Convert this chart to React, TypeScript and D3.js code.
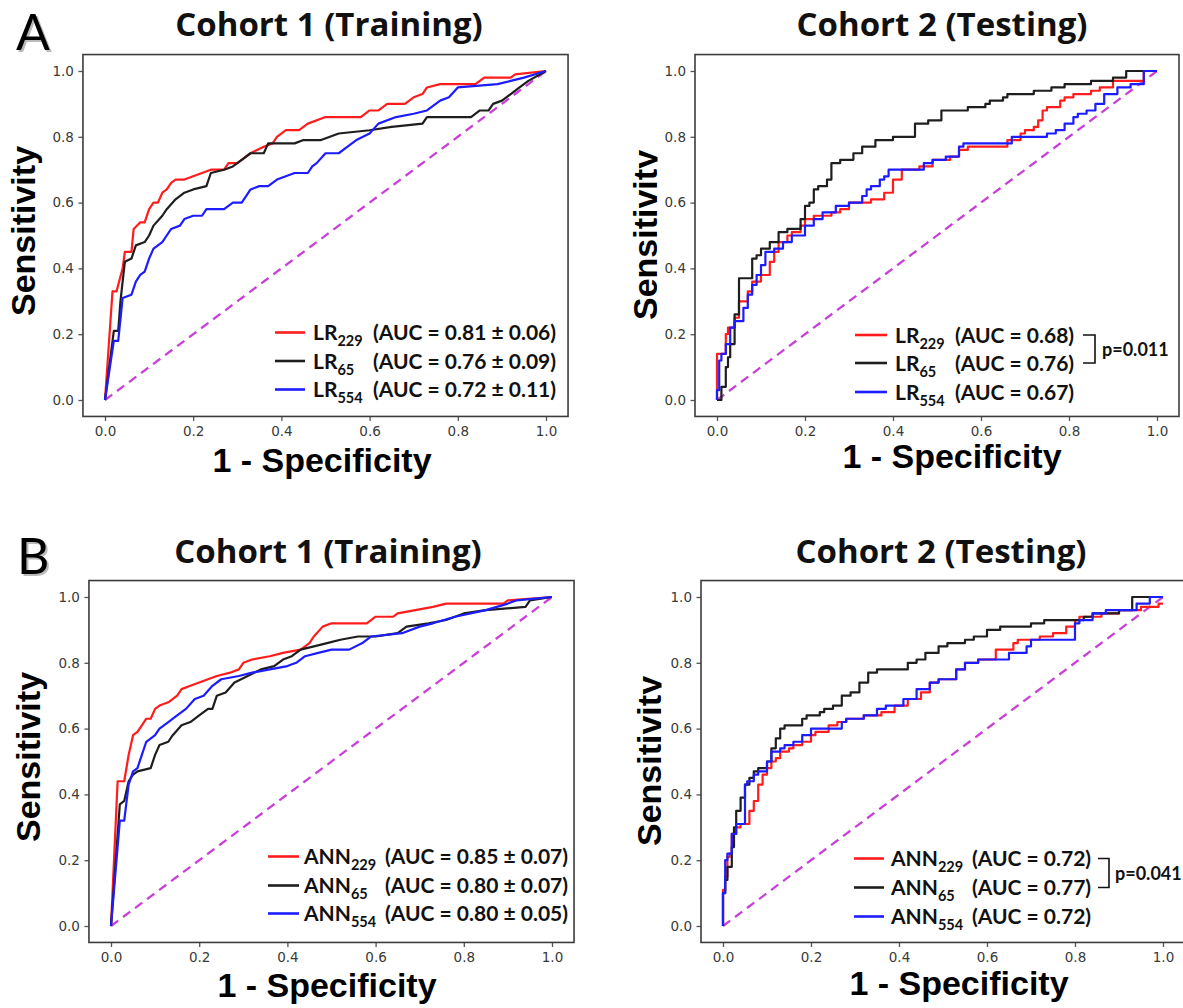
import React, { useEffect, useRef } from "react";
import * as d3 from "d3";

// axis ticks (shared by all four panels)
const TICKS = [0, 0.2, 0.4, 0.6, 0.8, 1.0];
const TICK_LABELS = ["0.0", "0.2", "0.4", "0.6", "0.8", "1.0"];

const PANEL_TITLES = ["Cohort 1 (Training)", "Cohort 2 (Testing)", "Cohort 1 (Training)", "Cohort 2 (Testing)"];
const PANEL_LETTERS = ["A", "B"];
const SUBSCRIPTS = ["229", "65", "554"];
const SERIES_COLORS = ["#ff1c1c", "#1e1e1e", "#1c1cff"];

// AUC texts per panel
const AUC_LR_TRAIN = ["(AUC = 0.81 ± 0.06)", "(AUC = 0.76 ± 0.09)", "(AUC = 0.72 ± 0.11)"];
const AUC_LR_TEST = ["(AUC = 0.68)", "(AUC = 0.76)", "(AUC = 0.67)"];
const AUC_ANN_TRAIN = ["(AUC = 0.85 ± 0.07)", "(AUC = 0.80 ± 0.07)", "(AUC = 0.80 ± 0.05)"];
const AUC_ANN_TEST = ["(AUC = 0.72)", "(AUC = 0.77)", "(AUC = 0.72)"];
const P_VALUES = ["p=0.011", "p=0.041"];

// ROC points [fpr, tpr]
const lrTrain229 = [[0,0],[0.017,0.33],[0.026,0.33],[0.04,0.40],[0.045,0.45],[0.06,0.45],[0.065,0.52],[0.08,0.54],[0.09,0.54],[0.10,0.58],[0.11,0.60],[0.12,0.60],[0.13,0.63],[0.14,0.64],[0.15,0.66],[0.16,0.67],[0.18,0.67],[0.2,0.68],[0.22,0.69],[0.24,0.70],[0.27,0.70],[0.28,0.72],[0.30,0.72],[0.31,0.73],[0.33,0.75],[0.36,0.77],[0.38,0.78],[0.39,0.80],[0.41,0.82],[0.44,0.82],[0.46,0.84],[0.50,0.86],[0.58,0.86],[0.60,0.88],[0.62,0.88],[0.64,0.90],[0.68,0.90],[0.70,0.92],[0.72,0.93],[0.73,0.95],[0.76,0.96],[0.84,0.96],[0.86,0.98],[0.92,0.98],[0.93,0.99],[1,1]];
const lrTrain65 = [[0,0],[0.02,0.21],[0.03,0.21],[0.035,0.30],[0.045,0.42],[0.06,0.43],[0.07,0.47],[0.09,0.48],[0.10,0.50],[0.11,0.53],[0.13,0.56],[0.14,0.58],[0.16,0.61],[0.18,0.63],[0.2,0.64],[0.23,0.65],[0.24,0.69],[0.27,0.70],[0.29,0.71],[0.31,0.73],[0.33,0.75],[0.36,0.75],[0.37,0.78],[0.43,0.78],[0.45,0.79],[0.49,0.79],[0.53,0.81],[0.60,0.82],[0.65,0.83],[0.72,0.84],[0.73,0.86],[0.83,0.86],[0.85,0.88],[0.87,0.88],[0.88,0.90],[0.90,0.91],[0.92,0.93],[0.94,0.95],[0.96,0.97],[1,1]];
const lrTrain554 = [[0,0],[0.02,0.18],[0.03,0.18],[0.04,0.31],[0.06,0.32],[0.07,0.36],[0.08,0.38],[0.09,0.39],[0.10,0.43],[0.11,0.46],[0.13,0.48],[0.14,0.50],[0.15,0.52],[0.17,0.53],[0.18,0.55],[0.20,0.56],[0.22,0.56],[0.23,0.58],[0.27,0.58],[0.29,0.60],[0.31,0.60],[0.32,0.62],[0.33,0.64],[0.35,0.65],[0.37,0.65],[0.39,0.67],[0.41,0.68],[0.43,0.69],[0.46,0.69],[0.47,0.71],[0.48,0.72],[0.50,0.75],[0.53,0.75],[0.55,0.77],[0.57,0.79],[0.60,0.81],[0.62,0.84],[0.66,0.86],[0.70,0.87],[0.73,0.88],[0.76,0.91],[0.78,0.92],[0.80,0.95],[0.89,0.96],[0.92,0.97],[0.95,0.98],[1,1]];

const lrTest229 = [[0,0],[0,0.05],[0.01,0.14],[0.02,0.14],[0.025,0.20],[0.03,0.22],[0.04,0.22],[0.05,0.25],[0.07,0.30],[0.08,0.33],[0.10,0.36],[0.12,0.38],[0.13,0.42],[0.14,0.45],[0.16,0.48],[0.17,0.50],[0.19,0.51],[0.20,0.53],[0.22,0.55],[0.26,0.56],[0.28,0.57],[0.30,0.58],[0.33,0.60],[0.35,0.60],[0.38,0.61],[0.40,0.63],[0.42,0.67],[0.43,0.70],[0.46,0.70],[0.49,0.71],[0.53,0.73],[0.55,0.74],[0.57,0.76],[0.58,0.77],[0.66,0.77],[0.67,0.79],[0.69,0.79],[0.70,0.81],[0.72,0.82],[0.73,0.83],[0.74,0.85],[0.75,0.88],[0.78,0.89],[0.79,0.91],[0.81,0.92],[0.85,0.93],[0.87,0.94],[0.90,0.95],[0.93,0.97],[0.97,0.97],[1,1]];
const lrTest65 = [[0,0],[0.01,0],[0.02,0.04],[0.025,0.10],[0.03,0.13],[0.04,0.17],[0.05,0.26],[0.06,0.37],[0.08,0.37],[0.09,0.43],[0.10,0.44],[0.12,0.46],[0.14,0.48],[0.16,0.51],[0.19,0.52],[0.20,0.55],[0.21,0.59],[0.22,0.60],[0.23,0.64],[0.25,0.65],[0.26,0.67],[0.28,0.72],[0.31,0.73],[0.33,0.75],[0.36,0.77],[0.37,0.79],[0.40,0.79],[0.43,0.80],[0.45,0.80],[0.48,0.84],[0.51,0.85],[0.53,0.88],[0.57,0.88],[0.58,0.89],[0.61,0.89],[0.62,0.90],[0.65,0.91],[0.66,0.92],[0.72,0.93],[0.76,0.94],[0.79,0.95],[0.85,0.96],[0.90,0.97],[0.93,0.98],[0.95,1.0],[1,1]];
const lrTest554 = [[0,0],[0.005,0.03],[0.01,0.12],[0.02,0.14],[0.03,0.17],[0.04,0.22],[0.05,0.24],[0.06,0.24],[0.07,0.28],[0.08,0.32],[0.09,0.35],[0.10,0.38],[0.11,0.41],[0.13,0.45],[0.15,0.46],[0.17,0.48],[0.19,0.50],[0.20,0.50],[0.22,0.53],[0.24,0.55],[0.27,0.57],[0.30,0.59],[0.33,0.60],[0.34,0.62],[0.35,0.64],[0.37,0.65],[0.38,0.67],[0.39,0.68],[0.41,0.70],[0.47,0.70],[0.49,0.72],[0.52,0.73],[0.55,0.74],[0.56,0.77],[0.58,0.78],[0.67,0.78],[0.68,0.80],[0.75,0.80],[0.77,0.81],[0.79,0.82],[0.81,0.84],[0.82,0.86],[0.84,0.87],[0.86,0.88],[0.88,0.90],[0.91,0.93],[0.94,0.95],[0.97,0.96],[1,1]];

const annTrain229 = [[0,0],[0.015,0.44],[0.03,0.44],[0.04,0.52],[0.05,0.58],[0.06,0.59],[0.07,0.61],[0.08,0.63],[0.09,0.63],[0.10,0.66],[0.11,0.67],[0.13,0.68],[0.15,0.70],[0.16,0.72],[0.18,0.73],[0.20,0.74],[0.22,0.75],[0.24,0.76],[0.27,0.77],[0.29,0.78],[0.30,0.80],[0.32,0.81],[0.36,0.82],[0.39,0.83],[0.43,0.84],[0.45,0.86],[0.46,0.88],[0.48,0.91],[0.50,0.92],[0.58,0.92],[0.60,0.94],[0.64,0.94],[0.65,0.95],[0.69,0.96],[0.73,0.97],[0.76,0.98],[0.89,0.98],[0.90,0.99],[1,1]];
const annTrain65 = [[0,0],[0.02,0.37],[0.03,0.38],[0.04,0.44],[0.05,0.46],[0.06,0.47],[0.09,0.48],[0.10,0.52],[0.11,0.55],[0.13,0.56],[0.14,0.58],[0.16,0.61],[0.18,0.62],[0.20,0.64],[0.22,0.66],[0.23,0.66],[0.24,0.70],[0.26,0.71],[0.28,0.74],[0.31,0.76],[0.34,0.78],[0.37,0.79],[0.39,0.81],[0.41,0.82],[0.43,0.84],[0.46,0.85],[0.49,0.86],[0.52,0.87],[0.56,0.88],[0.60,0.88],[0.65,0.89],[0.67,0.91],[0.72,0.92],[0.76,0.93],[0.80,0.95],[0.85,0.96],[0.94,0.97],[0.95,0.99],[1,1]];
const annTrain554 = [[0,0],[0.02,0.32],[0.03,0.32],[0.04,0.43],[0.05,0.47],[0.06,0.48],[0.07,0.52],[0.08,0.56],[0.10,0.58],[0.11,0.60],[0.13,0.62],[0.15,0.64],[0.17,0.66],[0.19,0.69],[0.21,0.70],[0.23,0.73],[0.25,0.75],[0.29,0.76],[0.32,0.77],[0.36,0.78],[0.40,0.79],[0.42,0.80],[0.44,0.82],[0.47,0.83],[0.50,0.84],[0.54,0.84],[0.57,0.86],[0.59,0.88],[0.66,0.89],[0.70,0.91],[0.73,0.92],[0.78,0.94],[0.85,0.96],[0.90,0.98],[0.92,0.99],[1,1]];

const annTest229 = [[0,0],[0,0.06],[0.005,0.11],[0.01,0.15],[0.015,0.21],[0.02,0.22],[0.03,0.28],[0.04,0.30],[0.06,0.31],[0.07,0.35],[0.08,0.38],[0.09,0.43],[0.10,0.46],[0.11,0.48],[0.12,0.50],[0.13,0.51],[0.15,0.53],[0.16,0.54],[0.18,0.55],[0.20,0.56],[0.21,0.58],[0.24,0.59],[0.26,0.61],[0.28,0.62],[0.32,0.63],[0.36,0.64],[0.39,0.65],[0.42,0.67],[0.45,0.69],[0.47,0.71],[0.49,0.74],[0.53,0.75],[0.55,0.78],[0.58,0.80],[0.60,0.81],[0.62,0.81],[0.64,0.84],[0.66,0.84],[0.67,0.86],[0.72,0.87],[0.75,0.88],[0.78,0.89],[0.80,0.91],[0.81,0.93],[0.86,0.94],[0.90,0.95],[0.95,0.96],[0.99,0.97],[1,0.98]];
const annTest65 = [[0,0],[0.005,0.10],[0.01,0.14],[0.02,0.18],[0.025,0.24],[0.03,0.30],[0.04,0.35],[0.05,0.39],[0.06,0.43],[0.07,0.45],[0.08,0.47],[0.10,0.48],[0.11,0.50],[0.12,0.54],[0.13,0.57],[0.14,0.60],[0.18,0.61],[0.19,0.63],[0.22,0.64],[0.23,0.65],[0.25,0.66],[0.27,0.67],[0.29,0.70],[0.31,0.71],[0.33,0.74],[0.35,0.77],[0.42,0.78],[0.44,0.80],[0.46,0.81],[0.49,0.83],[0.51,0.85],[0.55,0.86],[0.57,0.87],[0.60,0.88],[0.63,0.90],[0.70,0.91],[0.73,0.92],[0.78,0.93],[0.82,0.93],[0.84,0.94],[0.90,0.95],[0.93,0.96],[0.96,1.0],[1,1]];
const annTest554 = [[0,0],[0.005,0.10],[0.01,0.20],[0.015,0.22],[0.02,0.22],[0.03,0.28],[0.04,0.31],[0.05,0.31],[0.055,0.43],[0.07,0.44],[0.08,0.46],[0.10,0.47],[0.11,0.50],[0.13,0.53],[0.14,0.54],[0.16,0.55],[0.18,0.56],[0.20,0.58],[0.24,0.60],[0.27,0.60],[0.28,0.62],[0.32,0.63],[0.35,0.64],[0.37,0.66],[0.41,0.67],[0.44,0.69],[0.47,0.72],[0.49,0.74],[0.53,0.75],[0.55,0.78],[0.58,0.80],[0.60,0.81],[0.65,0.81],[0.66,0.83],[0.69,0.83],[0.70,0.85],[0.72,0.87],[0.80,0.87],[0.81,0.92],[0.84,0.93],[0.87,0.95],[0.94,0.96],[0.97,0.98],[1,1]];

const DIAGONAL = [[0, 0], [1, 1]];

// layout of the four panels (pixel positions of data 0 and 1 on each axis)
const panels = [
  { title: PANEL_TITLES[0], model: "LR", auc: AUC_LR_TRAIN, series: [lrTrain229, lrTrain65, lrTrain554], p: null, step: false,
    x0: 105, x1: 546, y0: 400, y1: 71, titleX: 329, titleY: 36, xlabX: 322, xlabY: 472, ylabX: 35, ylabY: 231, clipY: false,
    lineX: [275, 305], textX: 313, aucX: 373, rows: [340, 368.5, 397] },
  { title: PANEL_TITLES[1], model: "LR", auc: AUC_LR_TEST, series: [lrTest229, lrTest65, lrTest554], p: P_VALUES[0], step: true,
    x0: 717, x1: 1157, y0: 400, y1: 71, titleX: 942, titleY: 36, xlabX: 952, xlabY: 468, ylabX: 657, ylabY: 235, clipY: true,
    lineX: [855, 887], textX: 895, aucX: 955, rows: [342.5, 370.5, 399.5], bracket: [1083, 1095], pX: 1102 },
  { title: PANEL_TITLES[2], model: "ANN", auc: AUC_ANN_TRAIN, series: [annTrain229, annTrain65, annTrain554], p: null, step: false,
    x0: 111, x1: 552, y0: 926, y1: 597, titleX: 328, titleY: 563, xlabX: 327, xlabY: 997, ylabX: 40, ylabY: 757, clipY: false,
    lineX: [268, 299], textX: 304, aucX: 385, rows: [864, 893, 921] },
  { title: PANEL_TITLES[3], model: "ANN", auc: AUC_ANN_TEST, series: [annTest229, annTest65, annTest554], p: P_VALUES[1], step: true,
    x0: 723, x1: 1163, y0: 926, y1: 597, titleX: 941, titleY: 563, xlabX: 959, xlabY: 995, ylabX: 661, ylabY: 761, clipY: true,
    lineX: [854, 884], textX: 891, aucX: 972, rows: [866, 895, 924], bracket: [1098, 1109], pX: 1115 },
];

const letters = [
  { text: PANEL_LETTERS[0], x: 16, y: 50 },
  { text: PANEL_LETTERS[1], x: 17, y: 574 },
];

export default function App() {
  const ref = useRef<SVGSVGElement>(null);

  useEffect(() => {
    const svg = d3.select(ref.current);
    svg.selectAll("*").remove();

    panels.forEach((p, pi) => {
      const x = d3.scaleLinear().domain([0, 1]).range([p.x0, p.x1]);
      const y = d3.scaleLinear().domain([0, 1]).range([p.y0, p.y1]);
      const g = svg.append("g");

      // title
      g.append("text")
        .attr("x", p.titleX).attr("y", p.titleY)
        .attr("text-anchor", "middle")
        .attr("font-family", "'Open Sans', sans-serif")
        .attr("font-weight", 700)
        .attr("font-size", 33)
        .attr("fill", "#111")
        .text(p.title);

      // axes, outside the frame
      const xAxis = d3.axisBottom(x).tickValues(TICKS).tickFormat((d, i) => TICK_LABELS[i]).tickSize(4.5).tickPadding(5);
      const yAxis = d3.axisLeft(y).tickValues(TICKS).tickFormat((d, i) => TICK_LABELS[i]).tickSize(4.5).tickPadding(4.5);
      const gX = g.append("g").attr("transform", "translate(0," + y(-0.05) + ")").call(xAxis);
      const gY = g.append("g").attr("transform", "translate(" + x(-0.05) + ",0)").call(yAxis);
      [gX, gY].forEach((ax) => {
        ax.select(".domain").remove();
        ax.selectAll(".tick line").attr("stroke", "#555").attr("stroke-width", 1.3);
        ax.selectAll(".tick text")
          .attr("font-family", "'DejaVu Sans', sans-serif")
          .attr("font-size", 13.5)
          .attr("fill", "#3a3a3a");
      });

      // diagonal
      const line = d3.line<number[]>().x((d) => x(d[0])).y((d) => y(d[1]));
      g.append("path")
        .attr("d", line(DIAGONAL))
        .attr("fill", "none")
        .attr("stroke", "#c940d8")
        .attr("stroke-width", 2.3)
        .attr("stroke-dasharray", "9,6");

      // ROC curves (training curves are averaged, so drawn straight between points)
      const rocLine = d3.line<number[]>().x((d) => x(d[0])).y((d) => y(d[1]))
        .curve(p.step ? d3.curveStepBefore : d3.curveLinear);
      p.series.forEach((s, si) => {
        g.append("path")
          .attr("d", rocLine(s))
          .attr("fill", "none")
          .attr("stroke", SERIES_COLORS[si])
          .attr("stroke-width", 2.2)
          .attr("stroke-linejoin", "round");
      });

      // frame
      g.append("rect")
        .attr("x", x(-0.05)).attr("y", y(1.05))
        .attr("width", x(1.05) - x(-0.05))
        .attr("height", y(-0.05) - y(1.05))
        .attr("fill", "none")
        .attr("stroke", "#3c3c3c")
        .attr("stroke-width", 1.6);

      // axis labels
      g.append("text")
        .attr("x", p.xlabX).attr("y", p.xlabY)
        .attr("text-anchor", "middle")
        .attr("font-family", "'Liberation Sans', Arial, sans-serif")
        .attr("font-weight", 700)
        .attr("font-size", 34)
        .attr("fill", "#000")
        .text("1 - Specificity");

      const ylabG = g.append("g");
      if (p.clipY) {
        // the descender of the last letter is cut off in the original
        const id = "yclip" + pi;
        svg.append("clipPath").attr("id", id)
          .append("rect").attr("x", 0).attr("y", 0).attr("width", p.ylabX + 0.5).attr("height", 1008);
        ylabG.attr("clip-path", "url(#" + id + ")");
      }
      ylabG.append("text")
        .attr("transform", "translate(" + p.ylabX + "," + p.ylabY + ") rotate(-90)")
        .attr("text-anchor", "middle")
        .attr("font-family", "'Liberation Sans', Arial, sans-serif")
        .attr("font-weight", 700)
        .attr("font-size", 34)
        .attr("fill", "#000")
        .text("Sensitivity");

      // legend
      p.rows.forEach((base, i) => {
        g.append("line")
          .attr("x1", p.lineX[0]).attr("x2", p.lineX[1])
          .attr("y1", base - 7.5).attr("y2", base - 7.5)
          .attr("stroke", SERIES_COLORS[i])
          .attr("stroke-width", 2.6);
        const t = g.append("text")
          .attr("x", p.textX).attr("y", base)
          .attr("font-family", "Lato, sans-serif")
          .attr("font-weight", 700)
          .attr("font-size", 21)
          .attr("fill", "#111");
        t.append("tspan").text(p.model);
        t.append("tspan").attr("dy", 6).attr("font-size", 14.5).text(SUBSCRIPTS[i]);
        g.append("text")
          .attr("x", p.aucX).attr("y", base)
          .attr("font-family", "Lato, sans-serif")
          .attr("font-weight", 700)
          .attr("font-size", 21)
          .attr("fill", "#111")
          .text(p.auc[i]);
      });

      if (p.p && p.bracket) {
        const r0 = p.rows[0] - 7.5, r1 = p.rows[1] - 7.5;
        g.append("path")
          .attr("d", `M${p.bracket[0]},${r0}H${p.bracket[1]}V${r1}H${p.bracket[0]}`)
          .attr("fill", "none")
          .attr("stroke", "#111")
          .attr("stroke-width", 1.6);
        g.append("text")
          .attr("x", p.pX).attr("y", (r0 + r1) / 2 + 6.5)
          .attr("font-family", "Lato, sans-serif")
          .attr("font-weight", 700)
          .attr("font-size", 18)
          .attr("fill", "#111")
          .text(p.p);
      }
    });

    // panel letters with a soft shadow
    letters.forEach((l) => {
      svg.append("text")
        .attr("x", l.x + 2).attr("y", l.y + 2)
        .attr("font-family", "Lato, sans-serif")
        .attr("font-size", 50)
        .attr("fill", "#bbb")
        .text(l.text);
      svg.append("text")
        .attr("x", l.x).attr("y", l.y)
        .attr("font-family", "Lato, sans-serif")
        .attr("font-size", 50)
        .attr("fill", "#000")
        .text(l.text);
    });
  }, []);

  return (
    <svg
      ref={ref}
      width={1183}
      height={1008}
      style={{ position: "absolute", left: 0, top: 0, background: "#fff" }}
    />
  );
}
